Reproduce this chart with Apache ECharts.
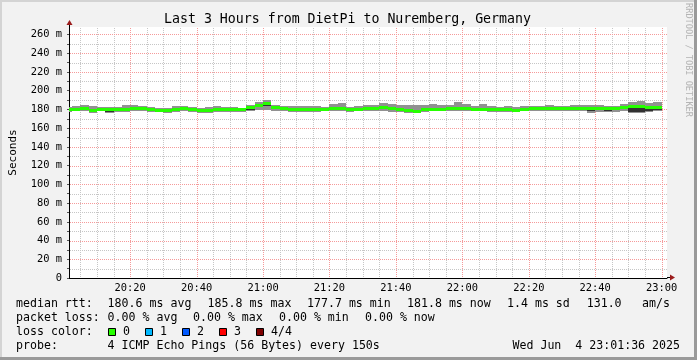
<!DOCTYPE html>
<html><head><meta charset="utf-8">
<script src="https://cdn.jsdelivr.net/npm/echarts@6/dist/echarts.min.js"></script>
<style>
html,body{margin:0;padding:0;background:#f2f2f2;}
#wrap{position:relative;width:697px;height:360px;overflow:hidden;background:#f2f2f2;}
#chart{position:absolute;left:0;top:0;width:697px;height:360px;}
.b{position:absolute;pointer-events:none;}
</style></head><body>
<div id="wrap"><div id="chart"></div>
<div class="b" style="left:0;top:0;width:697px;height:2px;background:#d4d4d4"></div>
<div class="b" style="left:0;top:0;width:2px;height:360px;background:#d4d4d4"></div>
<div class="b" style="right:0;top:0;width:3px;height:360px;background:#9a9a9a"></div>
<div class="b" style="left:0;bottom:0;width:697px;height:3px;background:#9a9a9a"></div>
</div>
<script>
// ---- data ----
const titleText = 'Last 3 Hours from DietPi to Nuremberg, Germany';
const stepStart = '20:00:00';   // first sample start (partly before the visible range)
const stepSeconds = 150;        // one sample every 150 s
const pingLow  = [177.2,177.8,178.2,176.6,178.0,176.6,177.0,177.4,177.8,178.2,177.2,176.8,176.6,177.4,178.0,177.2,176.2,176.2,177.4,177.0,177.2,176.8,178.2,179.4,179.4,178.4,178.0,177.0,177.4,177.4,177.2,177.8,178.0,178.2,177.0,177.8,178.0,178.0,178.4,177.6,177.4,176.4,176.0,177.4,177.8,177.8,177.8,178.2,178.2,177.8,178.0,177.4,177.0,177.2,177.0,177.8,178.4,178.2,178.2,178.0,178.0,178.2,178.2,176.2,177.4,177.0,177.2,178.0,176.0,175.8,176.8,178.0];
const ping2    = [178.3,179.6,179.6,177.9,179.4,177.6,178.6,179.2,179.4,179.6,178.8,178.2,178.0,179.0,179.6,178.8,177.6,177.6,178.6,178.4,178.6,177.8,179.6,182.6,183.6,180.4,179.4,179.2,179.0,179.2,178.6,179.4,180.0,180.2,178.6,179.2,179.6,179.6,180.2,179.4,179.2,177.6,177.2,179.0,179.6,179.4,179.6,180.0,180.0,179.4,179.6,179.0,178.6,178.8,178.4,179.4,179.8,179.6,179.8,179.6,179.8,179.8,180.0,178.4,179.4,178.8,179.0,180.2,177.4,177.0,178.6,179.8];
const ping3    = [180.2,181.0,181.6,179.2,180.9,180.6,180.2,180.8,181.8,181.2,180.4,179.6,179.4,180.6,181.6,180.2,179.6,180.2,180.8,180.4,180.0,179.8,182.4,184.8,186.4,182.6,181.4,180.8,180.8,181.0,180.6,180.8,182.0,182.0,180.4,181.2,181.6,181.8,182.2,181.6,181.2,179.2,178.4,180.6,181.0,181.2,181.6,182.0,181.8,180.8,181.2,180.8,180.4,180.6,179.4,181.2,181.2,181.2,181.6,181.6,181.6,181.8,182.0,181.2,181.6,181.2,181.2,182.4,182.0,182.4,182.4,182.6];
const pingHigh = [182.4,183.6,184.6,183.4,183.0,182.6,182.8,184.6,184.8,183.8,182.4,181.8,182.0,183.6,184.0,182.6,181.8,182.8,183.4,183.0,182.6,182.0,184.8,188.4,189.6,184.8,183.6,183.2,183.6,183.6,183.2,182.8,185.6,187.2,182.8,184.0,184.4,185.0,186.4,186.0,184.6,184.4,184.2,185.2,185.4,184.8,184.2,187.4,185.8,183.6,185.8,183.6,183.0,183.2,182.4,183.4,183.6,183.8,184.8,183.8,183.4,184.2,184.4,184.6,184.8,184.0,183.4,186.0,187.6,189.4,187.0,187.4];
const median   = [179.6,180.3,180.8,178.4,180.4,180.0,179.4,180.2,181.0,180.6,179.6,179.0,178.7,179.8,180.8,179.8,178.8,179.2,180.2,179.6,179.6,179.6,181.6,184.4,185.8,181.6,180.6,180.2,180.0,180.4,180.0,180.2,181.2,181.0,179.8,180.4,180.8,181.0,181.6,180.6,180.2,178.4,177.7,180.0,180.4,180.2,180.6,181.2,181.0,180.2,180.4,180.0,179.8,179.8,178.8,180.4,180.6,180.6,180.8,180.8,180.8,181.0,181.2,180.8,180.8,180.6,180.8,181.6,183.0,183.4,182.2,181.8];
const xLabels  = ['20:20','20:40','21:00','21:20','21:40','22:00','22:20','22:40','23:00'];
const xRange   = ['20:01:36','23:01:36'];
const yLabels  = [0,20,40,60,80,100,120,140,160,180,200,220,240,260];
const yMax = 268;
const rttLine  = ['median rtt:','180.6 ms avg','185.8 ms max','177.7 ms min','181.8 ms now','1.4 ms sd','131.0','am/s'];
const lossLine = ['packet loss:','0.00 % avg','0.00 % max','0.00 % min','0.00 % now'];
const lossLabels = ['0','1','2','3','4/4'];
const lossColors = ['#26ff00','#00b8ff','#0059ff','#ff0000','#7e0000'];
const probeLine = ['probe:','4 ICMP Echo Pings (56 Bytes) every 150s','Wed Jun  4 23:01:36 2025'];

// ---- helpers ----
function toMin(s){const p=s.split(':').map(Number);return p[0]*60+p[1]+(p[2]||0)/60;}
function fmt(v){const m=Math.round(v);const h=Math.floor(m/60),mm=m%60;return String(h).padStart(2,'0')+':'+String(mm).padStart(2,'0');}
const t0 = toMin(stepStart), dt = stepSeconds/60;
const rows = median.map((m,i)=>[t0+i*dt, t0+(i+1)*dt, pingLow[i], ping2[i], ping3[i], pingHigh[i], m]);
const xMin = toMin(xRange[0]), xMax = toMin(xRange[1]);
const xMinor = [], xMajor = [];
for(let m=Math.ceil(xMin/5)*5; m<=xMax; m+=5){ (m%20===0 ? xMajor : xMinor).push(m); }
const yMinor = [], yMajor = [], yTicks = [];
for(let v=0; v<=260; v+=10){ yTicks.push(v); (v%20===0 ? yMajor : yMinor).push(v); }

const MONO = '"DejaVu Sans Mono", monospace';
const GRID_MINOR = '#c6c6c6', GRID_MAJOR = '#f59a9a';
const chart = echarts.init(document.getElementById('chart'), null, {renderer:'canvas'});

function txt(x,y,s,size,align){
  return {type:'text', x:x, y:y, silent:true, z:100,
    style:{text:s, font: size+'px '+MONO, fill:'#000', align:align||'left', verticalAlign:'middle'}};
}
const graphics = [];
graphics.push(txt(347.5,19.5,titleText,13.25,'center'));
graphics.push({type:'text', x:688, y:60, rotation:-Math.PI/2, silent:true, z:100,
  style:{text:'RRDTOOL / TOBI OETIKER', font:'8.6px '+MONO, fill:'#b4b4b4', align:'center', verticalAlign:'middle'}});
const rttX = [16,107.6,207.6,307,407,507,586.7,642];
rttLine.forEach((s,i)=>graphics.push(txt(rttX[i],304,s,11.6)));
const lossX = [16,107.6,193,279,365];
lossLine.forEach((s,i)=>graphics.push(txt(lossX[i],318,s,11.6)));
graphics.push(txt(16,332,'loss color:',11.6));
lossLabels.forEach((s,i)=>{
  const bx = 108 + i*37;
  graphics.push({type:'rect', silent:true, z:100, shape:{x:bx+0.5,y:328.5,width:7,height:7}, style:{fill:lossColors[i], stroke:'#000', lineWidth:1}});
  graphics.push(txt(bx+15,332,s,11.6));
});
graphics.push(txt(16,346,probeLine[0],11.6));
graphics.push(txt(107.6,346,probeLine[1],11.6));
graphics.push(txt(680,346,probeLine[2],11.6,'right'));

// grid lines drawn through the axis scales with a custom series (crisp 1px dotted)
const gridRows = [];
xMinor.forEach(v=>gridRows.push([0,v,0])); yMinor.forEach(v=>gridRows.push([1,v,0]));
xMajor.forEach(v=>gridRows.push([0,v,1])); yMajor.filter(v=>v>0).forEach(v=>gridRows.push([1,v,1]));

const option = {
  animation:false,
  backgroundColor:'#f2f2f2',
  grid:{left:67,right:30,top:27,bottom:82,show:true,backgroundColor:'#ffffff',borderWidth:0},
  xAxis:{type:'value', min:xMin, max:xMax,
    axisLine:{show:true, onZero:false, lineStyle:{color:'#000',width:1}},
    axisTick:{show:false},
    axisLabel:{customValues:xLabels.map(toMin), formatter:fmt, fontFamily:MONO, fontSize:10.4, color:'#000', margin:5},
    splitLine:{show:false}
  },
  yAxis:{type:'value', min:0, max:yMax,
    name:'Seconds', nameLocation:'middle', nameGap:50, nameTextStyle:{fontFamily:MONO,fontSize:11,color:'#000'},
    axisLine:{show:true, lineStyle:{color:'#000',width:1}},
    axisTick:{show:true, length:2, customValues:yTicks, lineStyle:{color:'#555'}},
    axisLabel:{customValues:yLabels, formatter:v=> v===0?'0':v+' m', fontFamily:MONO, fontSize:10.4, color:'#000', margin:7},
    splitLine:{show:false}
  },
  graphic:graphics,
  series:[{
    type:'custom', data:gridRows, z:1, silent:true, clip:false,
    encode:{x:1},
    renderItem:function(params, api){
      const vertical = api.value(0)===0, v = api.value(1), major = api.value(2)===1;
      const cs = params.coordSys;
      const color = major ? GRID_MAJOR : GRID_MINOR;
      const children = [];
      if (vertical){
        const x = Math.round(api.coord([v,0])[0]);
        for (let y = cs.y + 1; y < cs.y + cs.height; y += 2) children.push({type:'rect', shape:{x:x, y:y, width:1, height:1}, style:{fill:color}});
      } else {
        const y = Math.round(api.coord([xMin,v])[1]);
        for (let x = cs.x + 1; x < cs.x + cs.width; x += 2) children.push({type:'rect', shape:{x:x, y:y, width:1, height:1}, style:{fill:color}});
      }
      return {type:'group', children:children};
    }
  },{
    type:'custom', data:rows, z:5, silent:true, clip:true,
    encode:{x:[0,1], y:[2,3,4,5,6]},
    renderItem:function(params, api){
      const xa = Math.round(api.coord([api.value(0),0])[0]);
      const xb = Math.round(api.coord([api.value(1),0])[0]);
      const yLo = api.coord([0,api.value(2)])[1];
      const y2 = api.coord([0,api.value(3)])[1];
      const y3 = api.coord([0,api.value(4)])[1];
      const yHi = api.coord([0,api.value(5)])[1];
      const yMed = api.coord([0,api.value(6)])[1];
      const w = xb - xa;
      return {type:'group', children:[
        {type:'rect', shape:{x:xa, y:Math.round(yHi), width:w, height:Math.max(1,Math.round(yLo)-Math.round(yHi))}, style:{fill:'#919191'}},
        {type:'rect', shape:{x:xa, y:Math.round(y3), width:w, height:Math.max(1,Math.round(y2)-Math.round(y3))}, style:{fill:'#323232'}},
        {type:'rect', shape:{x:xa, y:Math.round(yMed-1.5), width:w, height:3}, style:{fill:lossColors[0]}}
      ]};
    }
  }]
};
chart.setOption(option);

// axis arrows (rrdtool style), positioned from the axis scales
const pTop = chart.convertToPixel({gridIndex:0},[xMin,yMax]);
const pRight = chart.convertToPixel({gridIndex:0},[xMax,0]);
const ax = Math.round(pTop[0])+0.5, ay = Math.round(pTop[1]);
const bx = Math.round(pRight[0]), by = Math.round(pRight[1])-0.5;
chart.setOption({graphic: graphics.concat([
  {type:'line', silent:true, z:90, shape:{x1:ax,y1:ay,x2:ax,y2:ay-3}, style:{stroke:'#000',lineWidth:1}},
  {type:'polygon', silent:true, z:91, shape:{points:[[ax,ay-7],[ax-3,ay-2],[ax+3,ay-2]]}, style:{fill:'#9b1c1c'}},
  {type:'line', silent:true, z:90, shape:{x1:bx,y1:by,x2:bx+3,y2:by}, style:{stroke:'#000',lineWidth:1}},
  {type:'polygon', silent:true, z:91, shape:{points:[[bx+8,by],[bx+3,by-3],[bx+3,by+3]]}, style:{fill:'#9b1c1c'}}
])});
</script>
</body></html>
